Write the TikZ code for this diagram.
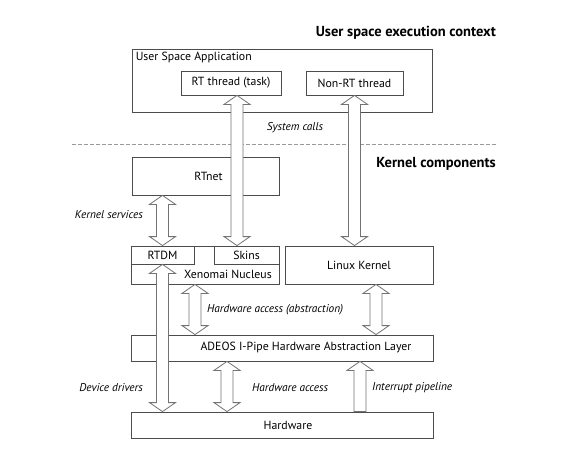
\documentclass[tikz,border=0pt]{standalone}
\usepackage{fontspec}
\setmainfont{PT Sans}
\usetikzlibrary{calc}

\definecolor{boxgray}{gray}{0.3}
\definecolor{arrowgray}{gray}{0.45}
\definecolor{dashgray}{gray}{0.6}

\begin{document}
\begin{tikzpicture}[x=1pt,y=1pt,
    font=\fontsize{11.8}{13}\selectfont,
    block/.style={draw=boxgray, line width=0.8pt, inner sep=0pt, fill=white},
    note/.style={font=\fontsize{11.3}{13}\selectfont\itshape, inner sep=0pt},
    heading/.style={font=\fontsize{14.5}{17}\selectfont\bfseries, inner sep=0pt},
    % fat arrow, drawn from the upper node to the lower one
    fatboth/.style={draw=arrowgray, fill=white, line width=0.8pt, to path={
        let \p1=(\tikztostart), \p2=(\tikztotarget) in
        (\x1,\y1) -- (\x1+13pt,\y1-9pt) -- (\x1+6pt,\y1-9pt) -- (\x1+6pt,\y2+9pt)
        -- (\x1+13pt,\y2+9pt) -- (\x1,\y2) -- (\x1-13pt,\y2+9pt) -- (\x1-6pt,\y2+9pt)
        -- (\x1-6pt,\y1-9pt) -- (\x1-13pt,\y1-9pt) -- cycle}},
    fatup/.style={draw=arrowgray, fill=white, line width=0.8pt, to path={
        let \p1=(\tikztostart), \p2=(\tikztotarget) in
        (\x1,\y1) -- (\x1+13pt,\y1-9pt) -- (\x1+6pt,\y1-9pt) -- (\x1+6pt,\y2)
        -- (\x1-6pt,\y2) -- (\x1-6pt,\y1-9pt) -- (\x1-13pt,\y1-9pt) -- cycle}}
  ]
    \useasboundingbox (0,0) rectangle (562,-452);

    % Headings
    \node[heading, anchor=base east] (userctx) at (496,-37) {User space execution context};
    \node[heading, anchor=base east] (kernctx) at (496,-167) {Kernel components};

    % User space
    \node[block, minimum width=300pt, minimum height=63pt] (usrapp) at (282,-80.5) {};
    \node[anchor=north west, inner sep=0pt] (usrapptxt) at ([shift={(4pt,-3pt)}]usrapp.north west) {User Space Application};
    \node[block, minimum width=100pt, minimum height=24pt] (rttask) at (231,-83) {RT thread (task)};
    \node[block, minimum width=97pt, minimum height=24pt] (nonrt) at (354.5,-83) {Non-RT thread};

    % Separation line
    \coordinate (sepL) at (72,-144);
    \coordinate (sepR) at (496,-144);
    \draw[dashgray, line width=0.8pt, dash pattern=on 4pt off 2pt] (sepL) -- (sepR);
    \node[note] (syscalls) at (295,-128) {System calls};

    % Kernel
    \node[block, minimum width=147pt, minimum height=38pt] (rtnet) at (205.5,-176) {\hspace{6pt}RTnet};
    \node[block, minimum width=148pt, minimum height=38pt] (xeno) at (205,-265) {};
    \node[block, minimum width=63pt, minimum height=18pt] (rtdm) at (162.5,-255) {RTDM};
    \node[block, minimum width=65pt, minimum height=18pt] (skins) at (246.5,-255) {Skins};
    \node[inner sep=0pt] (xenotxt) at (228,-274) {Xenomai Nucleus};
    \node[block, minimum width=148pt, minimum height=38pt] (linux) at (359,-265) {Linux Kernel};
    \node[block, minimum width=302pt, minimum height=26pt] (adeos) at (282,-348) {\hspace{48pt}ADEOS I-Pipe Hardware Abstraction Layer};
    \node[block, minimum width=302pt, minimum height=26pt] (hw) at (282,-425) {\hspace{12pt}Hardware};

    % Fat arrows
    \draw[fatboth] ([xshift=6pt]rttask.south) to ([xshift=6pt]rttask.south |- skins.north);
    \draw[fatboth] (nonrt.south) to (nonrt.south |- linux.north);
    \draw[fatboth] (rtnet.south -| rtdm.north) to (rtdm.north);
    \draw[fatboth] ([xshift=-10pt]xeno.south) to ([xshift=-10pt]xeno.south |- adeos.north);
    \draw[fatboth] ([xshift=17pt]linux.south) to ([xshift=17pt]linux.south |- adeos.north);
    \draw[fatboth] (rtdm.south) to (rtdm.south |- hw.north);
    \draw[fatboth] ([xshift=-55pt]adeos.south) to ([xshift=-55pt]adeos.south |- hw.north);
    \draw[fatup] ([xshift=78pt]adeos.south) to ([xshift=78pt]adeos.south |- hw.north);

    % Arrow labels
    \node[note, anchor=east] (kservices) at (143,-215) {Kernel services};
    \node[note, anchor=west] (hwabs) at (207,-310) {Hardware access (abstraction)};
    \node[note, anchor=east] (devdrv) at (143,-388) {Device drivers};
    \node[note, anchor=west] (hwacc) at (252,-388) {Hardware access};
    \node[note, anchor=west] (irqpipe) at (372,-388) {Interrupt pipeline};
\end{tikzpicture}
\end{document}
